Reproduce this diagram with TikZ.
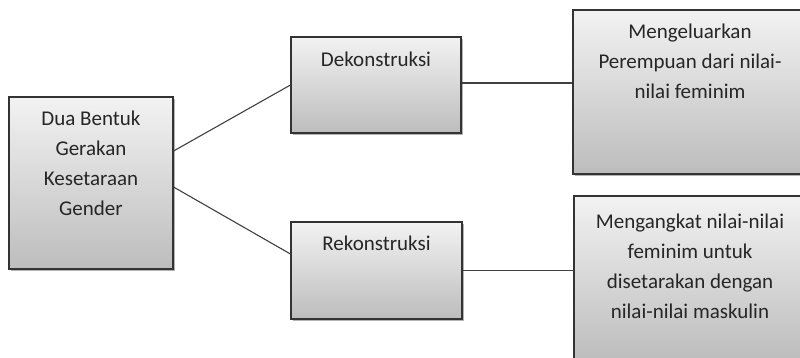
\documentclass[tikz,border=0pt]{standalone}
\usepackage{fontspec}
\setmainfont{Carlito}
\usepackage{tikz}
\usetikzlibrary{shadows, positioning}

\begin{document}
\begin{tikzpicture}[x=1pt,y=-1pt,
    box node/.style={rectangle,draw=black!80,line width=1.1pt,top color=black!5,bottom color=black!26,
                     drop shadow={shadow xshift=2pt,shadow yshift=-2pt,fill=black!50,opacity=0.6},inner sep=0pt},
    text node/.style={anchor=north,align=center,inner sep=0pt,text=black!85,font=\fontsize{21}{30}\selectfont},
    link/.style={draw=black!75,line width=1.1pt}]
\useasboundingbox (0,0) rectangle (800,357);
\clip (0,0) rectangle (800,357);

\node[box node,minimum width=164pt,minimum height=172pt] (Gender) at (91,183) {};
\node[box node,minimum width=170pt,minimum height=96pt] (Dekon) at (376,85) {};
\node[box node,minimum width=171pt,minimum height=97pt] (Rekon) at (376.5,270.5) {};
\node[box node,minimum width=234pt,minimum height=164pt] (Keluar) at (690,92) {};
\node[box node,minimum width=232pt,minimum height=164pt] (Angkat) at (690,278) {};

\node[text node] (GenderText) at ([yshift=-14pt]Gender.north) {Dua Bentuk\\Gerakan\\Kesetaraan\\Gender};
\node[text node] (DekonText) at ([yshift=-15pt]Dekon.north) {Dekonstruksi};
\node[text node] (RekonText) at ([yshift=-14pt]Rekon.north) {Rekonstruksi};
\node[text node] (KeluarText) at ([yshift=-14pt]Keluar.north) {Mengeluarkan\\Perempuan dari nilai-\\nilai feminim};
\node[text node] (AngkatText) at ([yshift=-18pt]Angkat.north) {Mengangkat nilai-nilai\\feminim untuk\\disetarakan dengan\\nilai-nilai maskulin};

\draw[link] ([yshift=32pt]Gender.east) -- (Dekon.west);
\draw[link] ([yshift=-4pt]Gender.east) -- ([yshift=16.5pt]Rekon.west);
\draw[link] ([yshift=2pt]Dekon.east) -- ([yshift=2pt]Dekon.east -| Keluar.west);
\draw[link] (Rekon.east) -- (Rekon.east -| Angkat.west);

\end{tikzpicture}
\end{document}
